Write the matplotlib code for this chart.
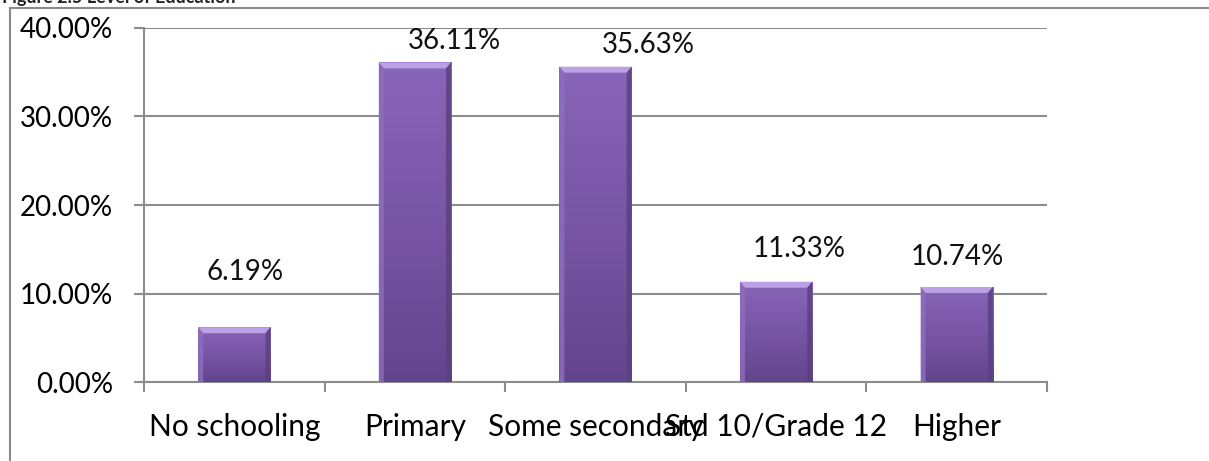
import matplotlib
matplotlib.use("Agg")
import matplotlib.pyplot as plt
from matplotlib.patches import Polygon
from matplotlib.colors import LinearSegmentedColormap
import numpy as np

# Education level distribution
categories = ["No schooling", "Primary", "Some secondary", "Std 10/Grade 12", "Higher"]
shares = [6.19, 36.11, 35.63, 11.33, 10.74]
y_ticks = [0, 10, 20, 30, 40]

# label nudges (pixels right / up from the top-centre of each bar)
label_dx = [11, 40, 53, 23, 1]
label_dy = [55, 21, 22, 33, 30]

plt.rcParams['font.family'] = ['Lato', 'DejaVu Sans']

W, H = 1209, 461
fig = plt.figure(figsize=(W / 100, H / 100), dpi=100)
fig.patch.set_facecolor("white")

# outer chart frame and the caption sitting above it
frame_col = "#8a8a8a"
fig.add_artist(plt.Line2D([10 / W, 10 / W], [0, 1 - 8 / H], transform=fig.transFigure,
                          color=frame_col, lw=1.5))
fig.add_artist(plt.Line2D([10 / W, 1], [1 - 8 / H, 1 - 8 / H], transform=fig.transFigure,
                          color=frame_col, lw=1.5))
fig.text(2 / W, 1 - 3 / H, "Figure 2.5 Level of Education", fontsize=13,
         fontweight="bold", ha="left", va="baseline", color="#222222")

ax = fig.add_axes([144 / W, 1 - 382 / H, (1047 - 144) / W, (382 - 28) / H])
ax.set_xlim(-0.5, len(categories) - 0.5)
ax.set_ylim(0, 40)

grid_col = "#8c8c8c"
ax.set_yticks(y_ticks)
ax.set_yticklabels([f"{v:.2f}%" for v in y_ticks], fontsize=20)
ax.yaxis.grid(True, color=grid_col, lw=1.5, zorder=0)
ax.set_axisbelow(True)
ax.tick_params(axis="y", length=7.2, width=1.5, color=grid_col, pad=15)

x = np.arange(len(categories))
ax.set_xticks(x)
ax.set_xticklabels(categories, fontsize=21.5)
ax.set_xticks(np.arange(len(categories) + 1) - 0.5, minor=True)
ax.tick_params(axis="x", which="major", length=0, pad=22)
ax.tick_params(axis="x", which="minor", length=7.2, width=1.5, color=grid_col)

for s in ["top", "right"]:
    ax.spines[s].set_visible(False)
for s in ["left", "bottom"]:
    ax.spines[s].set_color(grid_col)
    ax.spines[s].set_linewidth(1.5)

bar_w = 0.4
bars = ax.bar(x, shares, width=bar_w, color="#7a58a6", edgecolor="none", zorder=3)

# shaded fill and bevelled edges for each bar
grad = LinearSegmentedColormap.from_list("g", ["#62448c", "#7856a6", "#8865b8"])
px_x = 5 / (1047 - 144)       # one pixel in x data units
px_y = 40 / (382 - 28)        # one pixel in y data units
bev_x, bev_y = 5 * px_x, 6 * px_y
for b, v in zip(bars, shares):
    x0 = b.get_x()
    x1 = x0 + b.get_width()
    img = np.linspace(0, 1, 256).reshape(-1, 1)
    im = ax.imshow(img, cmap=grad, origin="lower", aspect="auto",
                   extent=[x0, x1, 0, v], zorder=3.1)
    im.set_clip_path(b)
    # top bevel
    ax.add_patch(Polygon([[x0, v], [x1, v], [x1 - bev_x, v - bev_y], [x0 + bev_x, v - bev_y]],
                         closed=True, facecolor="#bda1e6", edgecolor="none", zorder=3.2))
    # left and right bevels
    ax.add_patch(Polygon([[x0, v], [x0 + bev_x, v - bev_y], [x0 + bev_x, 0], [x0, 0]],
                         closed=True, facecolor="#8e6ebf", edgecolor="none", alpha=0.8, zorder=3.2))
    ax.add_patch(Polygon([[x1, v], [x1 - bev_x, v - bev_y], [x1 - bev_x, 0], [x1, 0]],
                         closed=True, facecolor="#5a3f80", edgecolor="none", alpha=0.8, zorder=3.2))

# value labels
for xi, v, dx, dy in zip(x, shares, label_dx, label_dy):
    ax.annotate(f"{v:.2f}%", xy=(xi, v), xytext=(dx * 0.72, dy * 0.72),
                textcoords="offset points", ha="center", va="center",
                fontsize=20, color="#111111", zorder=5)

fig.savefig("out.png", dpi=100, facecolor="white")
